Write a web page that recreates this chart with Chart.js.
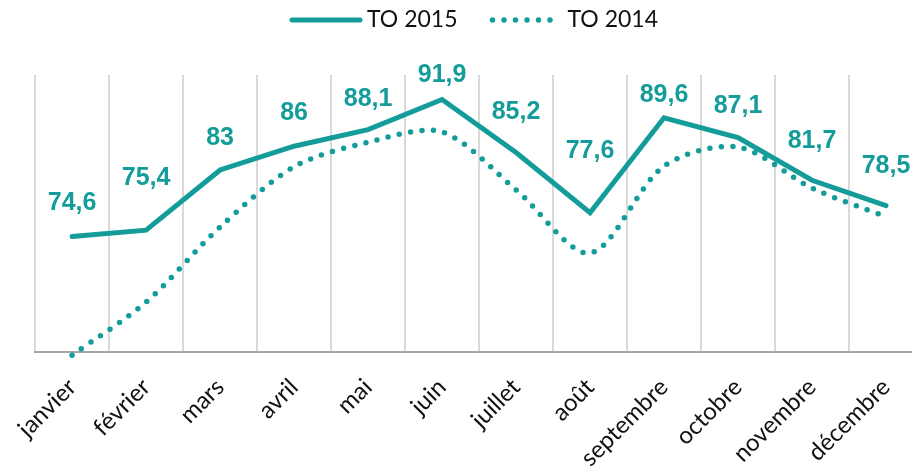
<!DOCTYPE html>
<html>
<head>
<meta charset="utf-8">
<script src="https://cdn.jsdelivr.net/npm/chart.js@4.4.0/dist/chart.umd.min.js"></script>
<style>
    html, body { margin: 0; padding: 0; background: #fff; overflow: hidden; }
    #wrap { width: 948px; height: 470px; }
</style>
</head>
<body>
<div id="wrap"><canvas id="chart" width="948" height="470"></canvas></div>
<script>
const months = ['janvier', 'février', 'mars', 'avril', 'mai', 'juin', 'juillet', 'août', 'septembre', 'octobre', 'novembre', 'décembre'];
const to2015 = [74.6, 75.4, 83, 86, 88.1, 91.9, 85.2, 77.6, 89.6, 87.1, 81.7, 78.5];
const to2014 = [59.6, 66.3, 75.8, 83.4, 86.5, 87.8, 80.5, 72.5, 83.5, 85.9, 80.7, 77.1];

const teal = '#139c99';
const textColor = '#111';

// draws the 2015 values above their points
const valueLabels = {
    id: 'valueLabels',
    afterDatasetsDraw(chart, args, opts) {
        const meta = chart.getDatasetMeta(0);
        const ctx = chart.ctx;
        ctx.save();
        ctx.font = opts.font;
        ctx.fillStyle = opts.color;
        ctx.textAlign = 'center';
        ctx.textBaseline = 'middle';
        meta.data.forEach((pt, i) => {
            ctx.fillText(String(to2015[i]).replace('.', ','), pt.x, pt.y - opts.lift[i]);
        });
        ctx.restore();
    }
};

// legend with line samples that keep the dataset dash pattern
const lineLegend = {
    id: 'lineLegend',
    afterDraw(chart, args, opts) {
        const ctx = chart.ctx;
        const sets = chart.data.datasets;
        ctx.save();
        ctx.font = opts.font;
        const widths = sets.map(ds => opts.sample + opts.gap + ctx.measureText(ds.label).width);
        const total = widths.reduce((a, b) => a + b, 0) + opts.spacing * (sets.length - 1);
        let x = opts.center - total / 2;
        sets.forEach((ds, i) => {
            ctx.strokeStyle = ds.borderColor;
            ctx.lineWidth = ds.borderWidth;
            ctx.lineCap = 'round';
            ctx.setLineDash(ds.borderDash || []);
            ctx.beginPath();
            ctx.moveTo(x + 2, opts.y);
            ctx.lineTo(x + opts.sample - 2, opts.y);
            ctx.stroke();
            ctx.setLineDash([]);
            ctx.fillStyle = opts.color;
            ctx.textAlign = 'left';
            ctx.textBaseline = 'middle';
            ctx.fillText(ds.label, x + opts.sample + opts.gap, opts.y);
            x += widths[i] + opts.spacing;
        });
        ctx.restore();
    }
};

new Chart(document.getElementById('chart'), {
    type: 'line',
    data: {
        labels: months,
        datasets: [
            {
                label: 'TO 2015',
                data: to2015,
                borderColor: teal,
                backgroundColor: teal,
                borderWidth: 5,
                borderCapStyle: 'round',
                pointRadius: 0,
                tension: 0
            },
            {
                label: 'TO 2014',
                data: to2014,
                borderColor: teal,
                backgroundColor: teal,
                borderWidth: 5.5,
                borderDash: [0, 11.5],
                borderCapStyle: 'round',
                pointRadius: 0,
                tension: 0.3,
                clip: false
            }
        ]
    },
    options: {
        responsive: false,
        animation: false,
        devicePixelRatio: 1,
        layout: {
            padding: {left: 32, right: 25, top: 75, bottom: 0}
        },
        plugins: {
            legend: {display: false},
            tooltip: {enabled: false},
            valueLabels: {
                font: 'bold 25px "Liberation Sans"',
                color: teal,
                lift: [33, 52, 32, 33, 30, 24, 40, 62, 23, 31, 39, 39]
            },
            lineLegend: {
                font: '23px Lato',
                color: textColor,
                center: 474,
                y: 20,
                sample: 72,
                gap: 5,
                spacing: 33
            }
        },
        scales: {
            x: {
                offset: true,
                afterFit(scale) {
                    scale.height = 118;
                },
                grid: {
                    offset: true,
                    color: '#d9d9d9',
                    lineWidth: 2,
                    drawTicks: false
                },
                border: {color: '#a6a6a6', width: 2},
                ticks: {
                    minRotation: 45,
                    maxRotation: 45,
                    padding: 21,
                    color: textColor,
                    font: {family: 'Lato', size: 24}
                }
            },
            y: {
                display: false,
                min: 60,
                max: 95
            }
        }
    },
    plugins: [valueLabels, lineLegend]
});
</script>
</body>
</html>
